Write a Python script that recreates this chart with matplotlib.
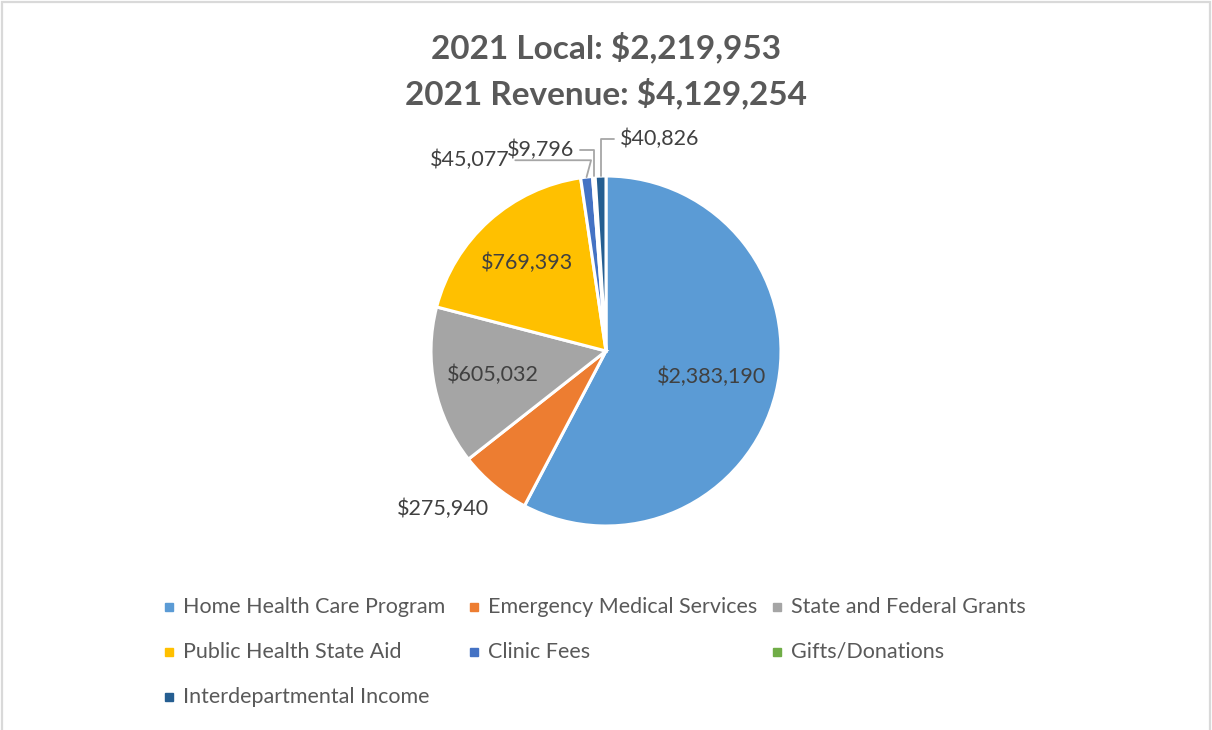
import matplotlib.pyplot as plt
import numpy as np
from matplotlib.patches import Rectangle

categories = ['Home Health Care Program', 'Emergency Medical Services', 'State and Federal Grants',
              'Public Health State Aid', 'Clinic Fees', 'Gifts/Donations', 'Interdepartmental Income']
values = [2383190, 275940, 605032, 769393, 45077, 9796, 40826]
colors = ['#5b9bd5', '#ed7d31', '#a5a5a5', '#ffc000', '#4472c4', '#70ad47', '#255e91']
title_lines = ['2021 Local: $2,219,953', '2021 Revenue: $4,129,254']

plt.rcParams['font.family'] = ['Lato', 'DejaVu Sans']
text_col = '#404040'

W, H = 1212, 730
fig = plt.figure(figsize=(W / 100, H / 100), dpi=100)

# light border like the excel chart area
fig.patches.append(Rectangle((2 / W, -0.01), (W - 4) / W, 1 - 2 / H + 0.01, transform=fig.transFigure,
                             fill=False, edgecolor='#d9d9d9', linewidth=1.6))

# pie axes: radius 1 = 175 px, centre at (606, 351)
cx, cy, R = 606, 351, 175
ax = fig.add_axes([(cx - 2 * R) / W, (H - cy - 2 * R) / H, 4 * R / W, 4 * R / H])

wedges, _ = ax.pie(values, colors=colors, startangle=90, counterclock=False, radius=1,
                   wedgeprops=dict(edgecolor='white', linewidth=2.2))
ax.set_xlim(-2, 2)
ax.set_ylim(-2, 2)
ax.set_aspect('equal')
ax.axis('off')

total = sum(values)
labels = ['$' + format(v, ',') for v in values]
fracs = np.array(values) / total
mids = 90 - 360 * (np.cumsum(fracs) - fracs / 2)

fs = 15.5
# inside labels: radius factor per slice
inside = {0: 0.62, 2: 0.66, 3: 0.68}
for i, r in inside.items():
    a = np.deg2rad(mids[i])
    ax.text(r * np.cos(a), r * np.sin(a), labels[i], ha='center', va='center',
            fontsize=fs, color=text_col)

# EMS label sits outside, lower left
a = np.deg2rad(mids[1])
ax.text(1.25 * np.cos(a) - 0.13, 1.25 * np.sin(a) + 0.06, labels[1], ha='center', va='center',
        fontsize=fs, color=text_col)

# small slices with leader lines (text offsets in data units)
small = {4: (-0.55, 1.09, 'right'), 5: (-0.18, 1.15, 'right'), 6: (0.08, 1.21, 'left')}
for i, (tx, ty, ha) in small.items():
    a = np.deg2rad(mids[i])
    ax.annotate(labels[i], xy=(np.cos(a), np.sin(a)), xytext=(tx, ty), ha=ha, va='center',
                fontsize=fs, color=text_col,
                arrowprops=dict(arrowstyle='-', color='#a6a6a6', lw=1.3, shrinkA=2, shrinkB=0,
                                connectionstyle='angle,angleA=0,angleB=%d' % (75 if i == 4 else 90)))

fig.text(0.5, 1 - 47 / H, title_lines[0], ha='center', va='center', fontsize=24,
         fontweight='bold', color='#595959')
fig.text(0.5, 1 - 93 / H, title_lines[1], ha='center', va='center', fontsize=24,
         fontweight='bold', color='#595959')

# legend laid out in fixed-width columns like excel
col_x = [169, 474, 777]
row_y = [607, 652, 697]
for i, (name, c) in enumerate(zip(categories, colors)):
    x = col_x[i % 3]
    y = row_y[i // 3]
    fig.patches.append(Rectangle(((x - 4) / W, 1 - (y + 4) / H), 8 / W, 8 / H,
                                 transform=fig.transFigure, color=c))
    fig.text((x + 14) / W, 1 - y / H, name, ha='left', va='center', fontsize=fs, color='#595959')

fig.savefig('out.png', dpi=100)
